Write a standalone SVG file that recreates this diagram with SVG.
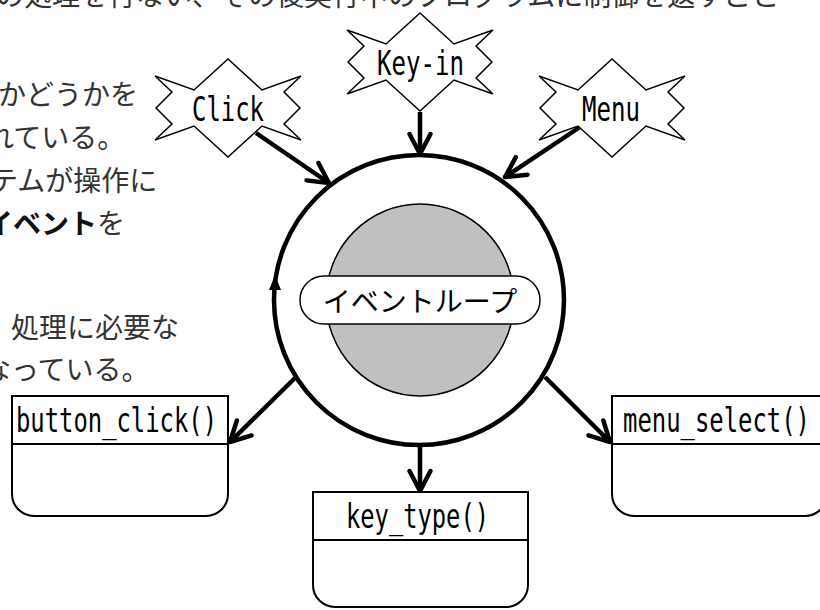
<svg xmlns="http://www.w3.org/2000/svg" width="820" height="610" viewBox="0 0 820 610">
<style>
.body{font-family:"Noto Sans CJK JP","Liberation Serif",serif;font-size:28px;fill:#333}
.bold{font-weight:bold;fill:#111}
.mono{font-family:"DejaVu Sans Mono","Liberation Mono",monospace;font-size:33px;fill:#000}
.star{fill:#fff;stroke:#000;stroke-width:1.5}
.box{fill:#fff;stroke:#000;stroke-width:2}
.conn{stroke:#000;stroke-width:4.5;fill:none;marker-end:url(#v)}
</style>
<defs>
<marker id="v" markerUnits="userSpaceOnUse" viewBox="-26 -16 30 32" refX="0" refY="0" markerWidth="30" markerHeight="32" orient="auto">
<path d="M-20,-10.5 L0,0 L-20,10.5" fill="none" stroke="#000" stroke-width="4.5" stroke-linejoin="round" stroke-linecap="round"/>
</marker>
<path id="starshape" d="M0,-49 L34,-18 L73,-32 L56,-16 L72,0 L56,16 L73,32 L34,18 L0,49 L-34,18 L-73,32 L-56,16 L-72,0 L-56,-16 L-73,-32 L-34,-18 Z"/>
</defs>

<g id="text">
<text class="body" x="-4" y="6">の処理を行ない、その後実行中のプログラムに制御を返すこと</text>
<text class="body" x="-2" y="105">かどうかを</text>
<text class="body" x="-14" y="148">れている。</text>
<text class="body" x="-10" y="191">テムが操作に</text>
<text class="body" x="-15" y="234"><tspan class="bold">イベント</tspan>を</text>
<text class="body" x="11" y="338">処理に必要な</text>
<text class="body" x="-17" y="380">なっている。</text>
</g>

<g id="connectors">
<line class="conn" x1="256" y1="133" x2="329" y2="183"/>
<line class="conn" x1="420" y1="112" x2="420" y2="154"/>
<line class="conn" x1="580" y1="127" x2="505" y2="177"/>
<line class="conn" x1="296" y1="377" x2="230" y2="442"/>
<line class="conn" x1="420" y1="446" x2="420" y2="491"/>
<line class="conn" x1="545" y1="377" x2="610" y2="442"/>
</g>

<g id="click">
<use href="#starshape" class="star" x="228" y="108"/>
<text class="mono" x="192" y="121" textLength="72" lengthAdjust="spacingAndGlyphs">Click</text>
</g>
<g id="keyin">
<use href="#starshape" class="star" x="420" y="62"/>
<text class="mono" x="377" y="75" textLength="87" lengthAdjust="spacingAndGlyphs">Key-in</text>
</g>
<g id="menu">
<use href="#starshape" class="star" x="612" y="108"/>
<text class="mono" x="582" y="121" textLength="58" lengthAdjust="spacingAndGlyphs">Menu</text>
</g>

<g id="eventloop">
<circle cx="419" cy="300" r="145" fill="#fff" stroke="#000" stroke-width="4.5"/>
<polygon points="275,275 269,290 281,290" fill="#000"/>
<ellipse cx="420" cy="300" rx="94" ry="96" fill="#c0c0c0" stroke="#000" stroke-width="1.5"/>
<rect x="300" y="276" width="240" height="48" rx="24" fill="#fff" stroke="#000" stroke-width="1.5"/>
<text x="420" y="312" text-anchor="middle" style="font-family:'Noto Sans CJK JP',sans-serif;font-size:28px;fill:#000">イベントループ</text>
</g>

<g id="button_click">
<path class="box" d="M12,396 H228 V494 A22,22 0 0 1 206,516 H34 A22,22 0 0 1 12,494 Z"/>
<line x1="12" y1="444" x2="228" y2="444" stroke="#000" stroke-width="2"/>
<text class="mono" x="16" y="432" textLength="201" lengthAdjust="spacingAndGlyphs">button_click()</text>
</g>
<g id="key_type">
<path class="box" d="M313,492 H528 V585 A22,22 0 0 1 506,607 H335 A22,22 0 0 1 313,585 Z"/>
<line x1="313" y1="540" x2="528" y2="540" stroke="#000" stroke-width="2"/>
<text class="mono" x="346" y="528" textLength="143" lengthAdjust="spacingAndGlyphs">key_type()</text>
</g>
<g id="menu_select">
<path class="box" d="M612,396 H827 V494 A22,22 0 0 1 805,516 H634 A22,22 0 0 1 612,494 Z"/>
<line x1="612" y1="444" x2="827" y2="444" stroke="#000" stroke-width="2"/>
<text class="mono" x="623" y="432" textLength="187" lengthAdjust="spacingAndGlyphs">menu_select()</text>
</g>
</svg>
